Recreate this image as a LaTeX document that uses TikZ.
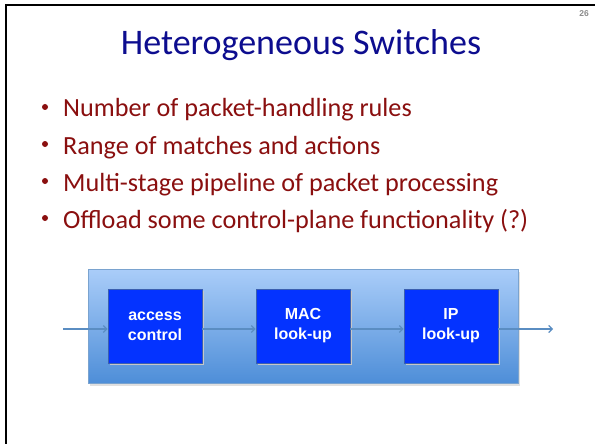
\documentclass[tikz,border=0pt]{standalone}
\usepackage{fontspec}
\setmainfont{Carlito}
\newfontfamily\boxfont{Liberation Sans}
\usetikzlibrary{arrows.meta}
\definecolor{titleblue}{HTML}{0D0D8F}
\definecolor{bulletred}{HTML}{8A0F0F}
\definecolor{outertop}{HTML}{AACDF9}
\definecolor{outerbot}{HTML}{4E8ED8}
\definecolor{outeredge}{HTML}{7AA3CF}
\definecolor{innerfill}{HTML}{0433FF}
\definecolor{inneredge}{HTML}{3A5FB0}
\definecolor{flowline}{HTML}{5A8DC2}
\tikzset{
  x=1pt, y=-1pt,
  stagebox/.style={draw=inneredge, line width=0.8pt, fill=innerfill, minimum width=94pt, minimum height=74pt,
    inner sep=0pt, text=white, align=center, font=\boxfont\bfseries\fontsize{16}{20}\selectfont},
  flow/.style={draw=flowline, line width=1.2pt, -{Straight Barb[length=3.5pt,width=7pt,line width=1.2pt]}},
  bullettext/.style={anchor=base west, text=bulletred, font=\fontsize{26.2}{30}\selectfont, inner sep=0pt},
  bulletdot/.style={circle, fill=bulletred, minimum size=6pt, inner sep=0pt}
}
\begin{document}
\begin{tikzpicture}
\useasboundingbox (0,0) rectangle (595,444);
\fill[white] (0,0) rectangle (595,444);
% slide frame
\draw[black, line width=2pt] (6,444) -- (6,5) -- (595,5);
% page number
\node[text=black!45, font=\boxfont\bfseries\fontsize{8.5}{10}\selectfont, anchor=center] (pnum) at (584,14) {26};
% title
\node[text=titleblue, font=\fontsize{36}{42}\selectfont, anchor=base] (title) at (301,55) {Heterogeneous Switches};
% bullets
\node[bulletdot] (d1) at (45,107) {};
\node[bullettext] (b1) at (63,117) {Number of packet-handling rules};
\node[bulletdot] (d2) at (45,144) {};
\node[bullettext] (b2) at (63,154) {Range of matches and actions};
\node[bulletdot] (d3) at (45,181) {};
\node[bullettext] (b3) at (63,191) {Multi-stage pipeline of packet processing};
\node[bulletdot] (d4) at (45,218) {};
\node[bullettext] (b4) at (63,228) {Offload some control-plane functionality (?)};
% outer box with shadow
\fill[black!12] (90,272) rectangle (520,386);
\node[draw=outeredge, line width=0.8pt, top color=outertop, bottom color=outerbot,
      minimum width=430pt, minimum height=114pt, inner sep=0pt] (outer) at (303,326) {};
% stage boxes
\fill[black!22] (110,291) rectangle (204,365);
\fill[black!22] (258,291) rectangle (352,365);
\fill[black!22] (406,291) rectangle (500,365);
\node[stagebox] (s1) at (155,326) {access\\control};
\node[stagebox] (s2) at (303,326) {MAC\\look-up};
\node[stagebox] (s3) at (451,326) {IP\\look-up};
% flow
\coordinate (in) at (63,329);
\coordinate (out) at (553,329);
\draw[flow] (in) -- (in -| s1.west);
\draw[flow] (s1.east |- in) -- (s2.west |- in);
\draw[flow] (s2.east |- in) -- (s3.west |- in);
\draw[flow] (s3.east |- in) -- (out);
\end{tikzpicture}
\end{document}
